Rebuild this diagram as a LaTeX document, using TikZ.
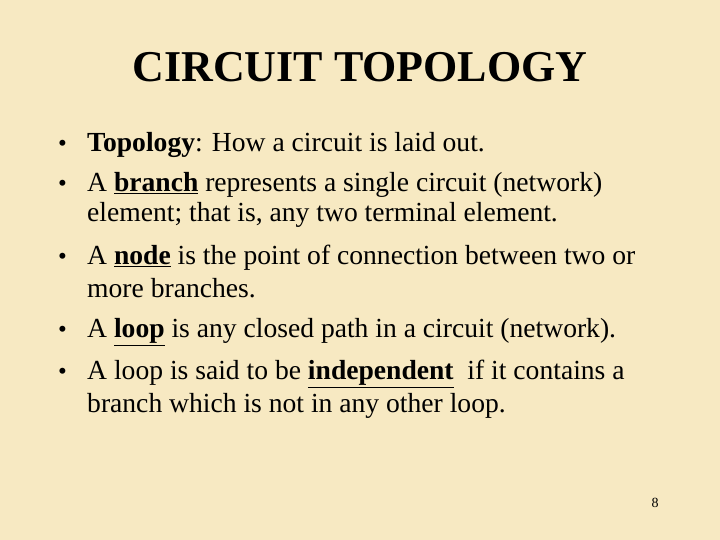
\documentclass[tikz,border=0pt]{standalone}
\usepackage{fontspec}
\setmainfont{Liberation Serif}
\definecolor{parch}{RGB}{247,233,194}
\begin{document}
\begin{tikzpicture}[x=1pt,y=1pt,
  body/.style={anchor=base west,inner sep=0pt,font=\fontsize{27.6}{30}\selectfont},
  bul/.style={anchor=base west,inner sep=0pt,font=\fontsize{25}{30}\selectfont}]
\fill[parch] (0,0) rectangle (720,540);
\useasboundingbox (0,0) rectangle (720,540);
\node[anchor=base,inner sep=0pt,font=\fontsize{44}{50}\selectfont\bfseries] (title) at (360,458) {CIRCUIT TOPOLOGY};
\node[bul] (b1) at (58,388) {•};
\node[body] (l1) at (87,388) {\textbf{Topology}: How a circuit is laid out.};
\node[bul] (b2) at (58,348) {•};
\node[body] (l2) at (87,348) {A \textbf{\underline{branch}} represents a single circuit (network)};
\node[body] (l3) at (87,318) {element; that is, any two terminal element.};
\node[bul] (b3) at (58,275) {•};
\node[body] (l4) at (87,275) {A \textbf{\underline{node}} is the point of connection between two or};
\node[body] (l5) at (87,242) {more branches.};
\node[bul] (b4) at (58,202) {•};
\node[body] (l6) at (87,202) {A \textbf{\underline{loop}} is any closed path in a circuit (network).};
\node[bul] (b5) at (58,160) {•};
\node[body] (l7) at (87,160) {A loop is said to be \textbf{\underline{independent}}\ \ if it contains a};
\node[body] (l8) at (87,127) {branch which is not in any other loop.};
\node[anchor=base,inner sep=0pt,font=\fontsize{14}{16}\selectfont] (pg) at (655,32) {8};
\end{tikzpicture}
\end{document}
